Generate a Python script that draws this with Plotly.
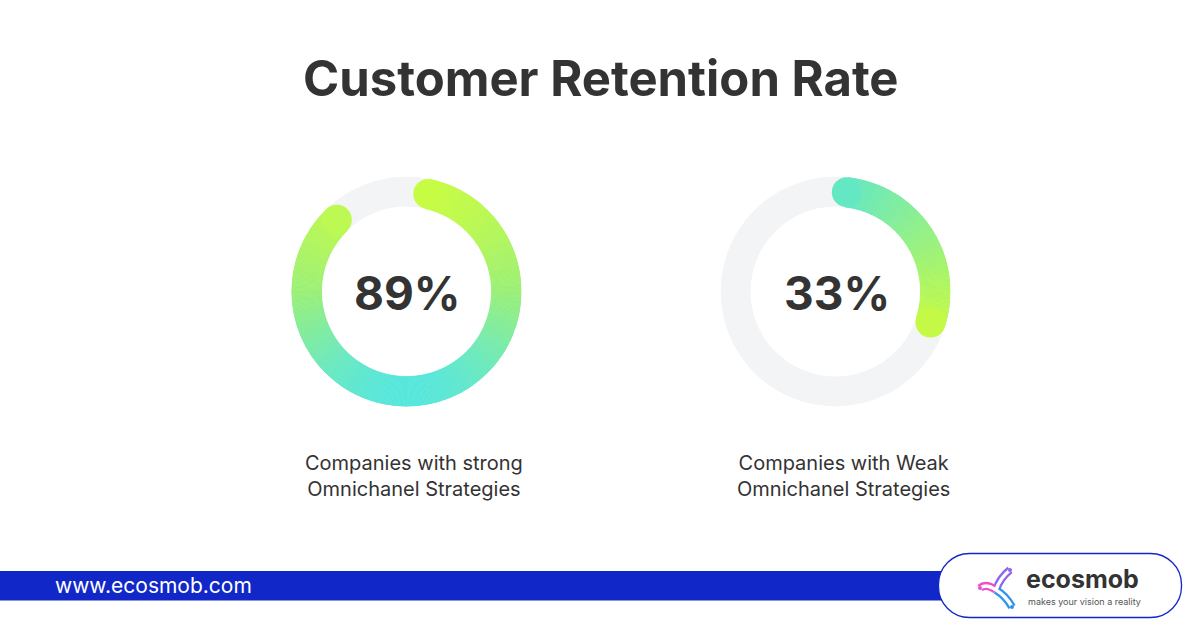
import numpy as np
import plotly.graph_objects as go

W, H = 1200, 630

# ---------------- data ----------------
title = "Customer Retention Rate"
values = [89, 33]
value_labels = ["89%", "33%"]
categories = ["Companies with strong<br>Omnichanel Strategies",
              "Companies with Weak<br>Omnichanel Strategies"]
website = "www.ecosmob.com"
brand = "ecosmob"
tagline = "makes your vision a reality"

# ---------------- style ----------------
centers = [(406.5, 291.5), (835.5, 291.5)]     # px
R_OUT, R_IN = 115, 85
R_MID = (R_OUT + R_IN) / 2
THICK = R_OUT - R_IN
start_angles = [12.6, 6.5]                      # cap centre, deg clockwise from 12 o'clock
grad_modes = ["vertical", "arc"]
grad_stops = [
    [(0.0, "#C8FC44"), (0.5, "#9CF078"), (1.0, "#58E7DC")],
    [(0.0, "#64E8C4"), (1.0, "#C4FA46")],
]
TRACK = "#F3F4F6"
TEXT = "#333333"
BLUE = "#1227C8"
FONT = "Inter"


def hex2rgb(h):
    h = h.lstrip("#")
    return np.array([int(h[i:i + 2], 16) for i in (0, 2, 4)], dtype=float)


def interp(stops, t):
    t = min(max(t, 0.0), 1.0)
    for (t0, c0), (t1, c1) in zip(stops[:-1], stops[1:]):
        if t <= t1:
            f = 0 if t1 == t0 else (t - t0) / (t1 - t0)
            c = hex2rgb(c0) * (1 - f) + hex2rgb(c1) * f
            return "rgb(%d,%d,%d)" % tuple(np.round(c))
    c = hex2rgb(stops[-1][1])
    return "rgb(%d,%d,%d)" % tuple(c)


def px(x):
    return x / W


def py(y):
    return 1 - y / H


fig = go.Figure()
cap_deg = np.degrees((THICK / 2) / R_MID)

for i, v in enumerate(values):
    sub = "polar" if i == 0 else "polar%d" % (i + 1)
    # background track
    fig.add_trace(go.Barpolar(
        r=[THICK] * 4, base=[R_IN] * 4, theta=[45, 135, 225, 315], width=[90.5] * 4,
        marker=dict(color=TRACK, line=dict(width=0)),
        subplot=sub, showlegend=False, hoverinfo="skip"))
    # gradient arc
    th0 = start_angles[i]
    th1 = th0 + v / 100 * 360 - 2 * cap_deg
    n = max(30, int((th1 - th0) * 1.5))
    edges = np.linspace(th0, th1, n + 1)
    mids = (edges[:-1] + edges[1:]) / 2
    step = edges[1] - edges[0]
    if grad_modes[i] == "vertical":
        ts = (1 - np.cos(np.radians(mids))) / 2
        t_start = (1 - np.cos(np.radians(th0))) / 2
        t_end = (1 - np.cos(np.radians(th1))) / 2
    else:
        ts = (mids - th0) / (th1 - th0)
        t_start, t_end = 0.0, 1.0
    cols = [interp(grad_stops[i], t) for t in ts]
    fig.add_trace(go.Barpolar(
        r=[THICK] * n, base=[R_IN] * n, theta=mids, width=[step * 1.15] * n,
        marker=dict(color=cols, line=dict(color=cols, width=0.6)),
        subplot=sub, showlegend=False, hoverinfo="skip"))
    # round caps
    fig.add_trace(go.Scatterpolar(
        r=[R_MID, R_MID], theta=[th0, th1], mode="markers",
        marker=dict(size=THICK, color=[interp(grad_stops[i], t_start), interp(grad_stops[i], t_end)],
                    line=dict(width=0)),
        subplot=sub, showlegend=False, hoverinfo="skip"))

layout_polars = {}
for i, (cx, cy) in enumerate(centers):
    key = "polar" if i == 0 else "polar%d" % (i + 1)
    layout_polars[key] = dict(
        domain=dict(x=[px(cx - R_OUT), px(cx + R_OUT)], y=[py(cy + R_OUT), py(cy - R_OUT)]),
        bgcolor="rgba(0,0,0,0)",
        radialaxis=dict(visible=False, range=[0, R_OUT]),
        angularaxis=dict(visible=False, rotation=90, direction="clockwise",
                         showgrid=False, showline=False, showticklabels=False, ticks=""),
    )

annotations = []
annotations.append(dict(text="<b>%s</b>" % title, x=px(600.5), y=py(78.5), xref="paper", yref="paper",
                        showarrow=False, xanchor="center", yanchor="middle",
                        font=dict(family=FONT, size=49, color=TEXT)))
for i, (cx, cy) in enumerate(centers):
    annotations.append(dict(text="<b>%s</b>" % value_labels[i], x=px(cx + 1), y=py(cy + 1),
                            xref="paper", yref="paper", showarrow=False,
                            xanchor="center", yanchor="middle",
                            font=dict(family=FONT, size=46, color=TEXT)))
    annotations.append(dict(text=categories[i], x=px(cx + 7.5), y=py(476),
                            xref="paper", yref="paper", showarrow=False,
                            xanchor="center", yanchor="middle", align="center",
                            font=dict(family=FONT, size=20, color=TEXT)))
annotations.append(dict(text=website, x=px(53), y=py(585), xref="paper", yref="paper",
                        showarrow=False, xanchor="left", yanchor="middle",
                        font=dict(family=FONT, size=21, color="white")))
annotations.append(dict(text="<b>%s</b>" % brand, x=px(1024), y=py(579), xref="paper", yref="paper",
                        showarrow=False, xanchor="left", yanchor="middle",
                        font=dict(family=FONT, size=25, color=TEXT)))
annotations.append(dict(text=tagline, x=px(1026), y=py(601), xref="paper", yref="paper",
                        showarrow=False, xanchor="left", yanchor="middle",
                        font=dict(family=FONT, size=9, color="#555555")))


def pill_path(l, t, r, b, rad):
    k = 0.5523 * rad
    pts = [
        ("M", [(l + rad, t)]),
        ("L", [(r - rad, t)]),
        ("C", [(r - rad + k, t), (r, t + rad - k), (r, t + rad)]),
        ("L", [(r, b - rad)]),
        ("C", [(r, b - rad + k), (r - rad + k, b), (r - rad, b)]),
        ("L", [(l + rad, b)]),
        ("C", [(l + rad - k, b), (l, b - rad + k), (l, b - rad)]),
        ("L", [(l, t + rad)]),
        ("C", [(l, t + rad - k), (l + rad - k, t), (l + rad, t)]),
    ]
    s = ""
    for cmd, ps in pts:
        s += cmd + " ".join("%.5f,%.5f" % (px(x), py(y)) for x, y in ps)
    return s + "Z"


def curve(p0, c, p1):
    return "M%.5f,%.5f Q%.5f,%.5f %.5f,%.5f" % (px(p0[0]), py(p0[1]), px(c[0]), py(c[1]),
                                                px(p1[0]), py(p1[1]))


shapes = [
    dict(type="rect", xref="paper", yref="paper", x0=0, x1=px(960), y0=py(600.5), y1=py(571),
         fillcolor=BLUE, line=dict(width=0), layer="above"),
    dict(type="path", xref="paper", yref="paper", path=pill_path(938.5, 553.5, 1181.5, 617.5, 31),
         fillcolor="white", line=dict(color=BLUE, width=1.3), layer="above"),
]

# logo icon (three outlined arms)
arms = [
    ((996, 590), (1000, 578), (1010, 570), "#8C66EE"),
    ((996, 590), (986, 583), (980, 588), "#EC4FCC"),
    ((996, 590), (1006, 596), (1012, 607), "#2F93E8"),
]
for p0, c, p1, col in arms:
    shapes.append(dict(type="path", xref="paper", yref="paper", path=curve(p0, c, p1),
                       line=dict(color=col, width=8), layer="above"))
for p0, c, p1, col in arms:
    shapes.append(dict(type="path", xref="paper", yref="paper", path=curve(p0, c, p1),
                       line=dict(color="white", width=3.5), layer="above"))
for p0, c, p1, col in arms:
    shapes.append(dict(type="circle", xref="paper", yref="paper",
                       x0=px(p1[0] - 2), x1=px(p1[0] + 2), y0=py(p1[1] + 2), y1=py(p1[1] - 2),
                       fillcolor=col, line=dict(width=0), layer="above"))

fig.update_layout(
    width=W, height=H, margin=dict(l=0, r=0, t=0, b=0),
    paper_bgcolor="white", plot_bgcolor="white",
    showlegend=False, annotations=annotations, shapes=shapes,
    **layout_polars,
)

fig.write_html("out.html", config=dict(displayModeBar=False))
